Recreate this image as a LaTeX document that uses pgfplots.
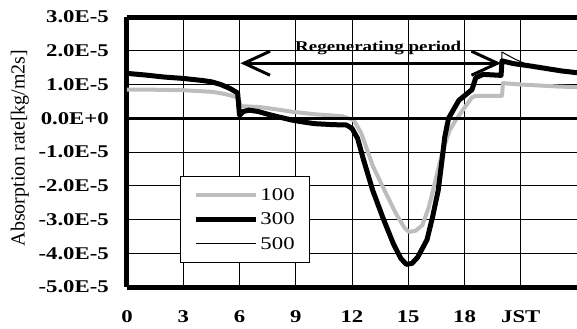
\documentclass[border=0pt]{standalone}
\usepackage{fontspec}
\setmainfont{Liberation Serif}
\newfontfamily\wideserif{Liberation Serif}[FakeStretch=1.27]
\usepackage{pgfplots}
\pgfplotsset{compat=1.18}
\usetikzlibrary{arrows.meta}
\newcommand{\tl}[1]{\mbox{\wideserif\bfseries\fontsize{18}{18}\selectfont #1}}

\begin{document}
\begin{tikzpicture}
\useasboundingbox (-127bp,-42bp) rectangle (450bp,287bp);
\begin{axis}[
  at={(0,0)}, anchor=south west,
  scale only axis, width=450bp, height=270bp,
  xmin=0, xmax=24, ymin=-5, ymax=3,
  xtick={0,3,...,24}, xticklabels={\tl{0},\tl{3},\tl{6},\tl{9},\tl{12},\tl{15},\tl{18},\tl{JST},},
  ytick={-5,-4,...,3},
  yticklabels={\tl{-5.0E-5},\tl{-4.0E-5},\tl{-3.0E-5},\tl{-2.0E-5},\tl{-1.0E-5},\tl{0.0E+0},\tl{1.0E-5},\tl{2.0E-5},\tl{3.0E-5}},
  major tick length=0pt,
  grid=major, major grid style={black, line width=0.7bp},
  axis x line*=box, axis y line*=left,
  axis line style={line width=5bp},
  tick label style={inner sep=0pt},
  x tick label style={yshift=-23bp, anchor=north},
  y tick label style={xshift=-18bp, anchor=east},
  ylabel={Absorption rate[kg/m2s]},
  ylabel style={at={(axis description cs:-0.238,0.515)}, anchor=center, font=\fontsize{20}{20}\selectfont},
  legend cell align=left,
  legend image code/.code={\draw[#1] (0bp,0bp) -- (60bp,0bp);},
  legend style={at={(axis description cs:0.118,0.411)}, anchor=north west,
    draw=black, line width=0.8bp, fill=white,
    font=\wideserif\fontsize{18}{18}\selectfont,
    inner xsep=13bp, inner ysep=10bp, row sep=7bp},
]
\addplot[gray!52, line width=4bp, line join=round] coordinates {
(0,0.85) (1,0.85) (2,0.84) (3,0.83) (4,0.80) (4.6,0.78) (5.2,0.72) (5.7,0.65) (5.95,0.60)
(6.05,0.36) (7.1,0.33) (8,0.26) (8.85,0.19) (10,0.12) (11.5,0.06) (12.1,-0.06)
(12.5,-0.45) (13.1,-1.40) (13.65,-2.04) (14.35,-2.83) (14.8,-3.25) (15.05,-3.37)
(15.4,-3.33) (15.75,-3.17) (16.1,-2.63) (16.45,-1.84) (16.8,-1.05) (17.2,-0.36)
(17.6,0) (18.4,0.62) (18.6,0.66) (19.0,0.66) (20.0,0.66) (20.05,1.04) (21,1.0)
(22,0.97) (23,0.94) (24,0.92)
};
\addlegendentry{100}
\addplot[black, line width=5bp, line join=round] coordinates {
(0,1.33) (1,1.28) (2,1.22) (3,1.18) (4,1.12) (4.5,1.08) (5,1.0) (5.5,0.88) (5.9,0.75)
(6.0,0.09) (6.2,0.20) (6.5,0.24) (7.0,0.20) (7.5,0.12) (8,0.05) (8.85,-0.06) (9.5,-0.12)
(10,-0.16) (11,-0.19) (11.7,-0.20) (12.0,-0.30) (12.3,-0.60) (12.6,-1.20) (13.1,-2.13)
(13.65,-2.95) (14.2,-3.71) (14.6,-4.15) (14.9,-4.33) (15.2,-4.30) (15.5,-4.12)
(16.0,-3.60) (16.3,-2.92) (16.6,-2.13) (16.8,-1.24) (16.95,-0.55) (17.15,0)
(17.7,0.53) (18.4,0.85) (18.6,1.20) (19.0,1.30) (19.95,1.27) (20.0,1.70)
(20.6,1.62) (21.5,1.55) (22.4,1.47) (23.2,1.40) (24,1.35)
};
\addlegendentry{300}
\addplot[black, line width=1bp] coordinates {
(0,1.33) (1,1.28) (2,1.22) (3,1.18) (4,1.12) (4.5,1.08) (5,1.0) (5.5,0.88) (5.9,0.75)
(6.0,0.09) (6.2,0.20) (6.5,0.24) (7.0,0.20) (7.5,0.12) (8,0.05) (8.85,-0.06) (9.5,-0.12)
(10,-0.16) (11,-0.19) (11.7,-0.20) (12.0,-0.30) (12.3,-0.60) (12.6,-1.20) (13.1,-2.13)
(13.65,-2.95) (14.2,-3.71) (14.6,-4.15) (14.9,-4.33) (15.2,-4.30) (15.5,-4.12)
(16.0,-3.60) (16.3,-2.92) (16.6,-2.13) (16.8,-1.24) (16.95,-0.55) (17.15,0)
(17.7,0.53) (18.4,0.85) (18.6,1.20) (19.0,1.30) (19.95,1.27) (20.0,1.96)
(20.7,1.75) (21.3,1.60) (22.4,1.47) (23.2,1.40) (24,1.35)
};
\addlegendentry{500}
\addplot[black, line width=2.5bp, forget plot] coordinates {(0,0) (24,0)};
\addplot[black, line width=3bp, {Straight Barb[length=26bp,width=24bp]}-{Straight Barb[length=26bp,width=24bp]}, forget plot]
  coordinates {(6.05,1.63) (19.95,1.63)};
\node[font=\wideserif\bfseries\fontsize{15}{15}\selectfont] at (axis cs:13.4,2.07) {Regenerating period};
\end{axis}
\end{tikzpicture}
\end{document}
